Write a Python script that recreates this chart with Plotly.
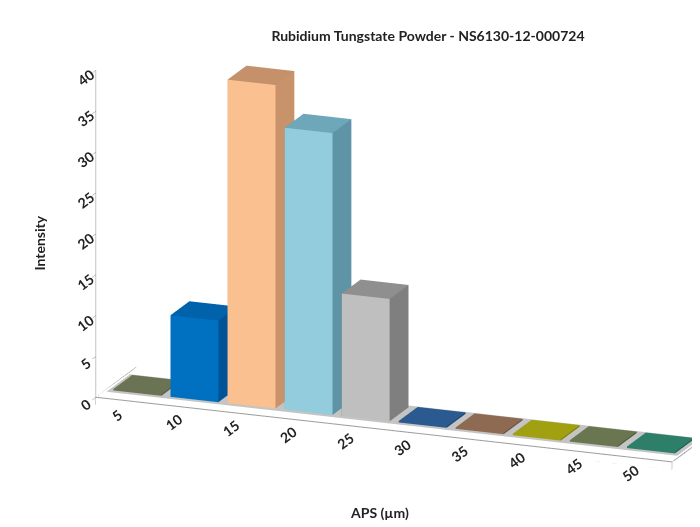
import plotly.graph_objects as go

categories = ["5", "10", "15", "20", "25", "30", "35", "40", "45", "50"]
intensity = [0.2, 10, 39.6, 34.5, 15, 0.2, 0.2, 0.2, 0.2, 0.2]
front_colors = ["#6B7355", "#0070C0", "#FAC090", "#93CDDD", "#BFBFBF",
                "#2A5A8F", "#8E6A52", "#A0A010", "#6A7650", "#2D7F6A"]
side_colors = ["#565D44", "#005396", "#C8926A", "#5F93A6", "#7F7F7F",
               "#1F4570", "#6E523F", "#7F7F0C", "#525C3E", "#225F50"]
top_colors = ["#6B7355", "#0062AA", "#C4916B", "#6FA7BA", "#8F8F8F",
              "#2A5A8F", "#8E6A52", "#A0A010", "#6A7650", "#2D7F6A"]
z_ticks = [0, 5, 10, 15, 20, 25, 30, 35, 40]

W = 0.84   # bar width (category units)
D = 0.84   # bar depth


def box(x0, x1, y0, y1, z0, z1):
    xs = [x0, x1, x1, x0, x0, x1, x1, x0]
    ys = [y0, y0, y1, y1, y0, y0, y1, y1]
    zs = [z0, z0, z0, z0, z1, z1, z1, z1]
    # bottom, top, front(y0), back(y1), left(x0), right(x1)
    i = [0, 0, 4, 4, 0, 0, 3, 3, 0, 0, 1, 1]
    j = [1, 2, 5, 6, 1, 5, 2, 6, 3, 7, 2, 6]
    k = [2, 3, 6, 7, 5, 4, 6, 7, 7, 4, 6, 5]
    return xs, ys, zs, i, j, k


flat = dict(ambient=1, diffuse=0, specular=0, roughness=1, fresnel=0)
fig = go.Figure()

# floor slab
nx = len(categories)
fx0, fx1 = -0.55, nx - 0.45
fy0, fy1 = -0.45, 1.35
fz0, fz1 = -0.9, 0
xs, ys, zs, i, j, k = box(fx0, fx1, fy0, fy1, fz0, fz1)
fig.add_trace(go.Mesh3d(x=xs, y=ys, z=zs, i=i, j=j, k=k, color="#FFFFFF",
                        flatshading=True, lighting=flat, hoverinfo="skip"))
# gray band under the bars
xs, ys, zs, i, j, k = box(fx0 + 0.05, fx1 - 0.05, 0.0 - 0.1, D + 0.1, 0.0, 0.02)
fig.add_trace(go.Mesh3d(x=xs, y=ys, z=zs, i=i, j=j, k=k, color="#C4C4C4",
                        flatshading=True, lighting=flat, hoverinfo="skip"))
# floor outlines
ex = [fx0, fx1, fx1, fx0, fx0, None, fx0, fx1, None, fx0, fx0, None, fx1, fx1]
ey = [fy0, fy0, fy1, fy1, fy0, None, fy0, fy0, None, fy0, fy1, None, fy0, fy0]
ez = [fz1, fz1, fz1, fz1, fz1, None, fz0, fz0, None, fz1, fz1, None, fz1, fz0]
fig.add_trace(go.Scatter3d(x=ex, y=ey, z=ez, mode="lines",
                           line=dict(color="#9A9A9A", width=2), hoverinfo="skip"))

for idx, v in enumerate(intensity):
    xs, ys, zs, i, j, k = box(idx - W / 2, idx + W / 2, 0, D, 0.02, v)
    fc = [front_colors[idx]] * 2 + [top_colors[idx]] * 2 + [front_colors[idx]] * 4 \
        + [side_colors[idx]] * 4
    fig.add_trace(go.Mesh3d(x=xs, y=ys, z=zs, i=i, j=j, k=k, facecolor=fc,
                            flatshading=True, lighting=flat, hoverinfo="skip"))

axis_font = dict(family="Lato", size=13, color="#222222", weight="bold")
fig.update_layout(
    width=700, height=527,
    paper_bgcolor="white",
    showlegend=False,
    margin=dict(l=0, r=0, t=0, b=0),
    title=dict(text="Rubidium Tungstate Powder - NS6130-12-000724",
               x=0.6, y=0.947, xanchor="center", yanchor="middle",
               font=dict(family="Lato", size=14, color="#222222", weight="bold")),
    scene=dict(
        domain=dict(x=[0.1, 1.0], y=[0.075, 0.995]),
        xaxis=dict(range=[fx0, fx1], tickvals=list(range(nx)), ticktext=categories,
                   showgrid=False, zeroline=False, showline=False, showbackground=False,
                   title=dict(text=""), tickfont=axis_font, ticks="outside",
                   ticklen=38, tickcolor="rgba(0,0,0,0)"),
        yaxis=dict(range=[fy0, fy1], showticklabels=False, showgrid=False,
                   zeroline=False, showline=False, showbackground=False,
                   title=dict(text=""), ticks=""),
        zaxis=dict(range=[fz0, 40], tickvals=z_ticks, showgrid=False, zeroline=False,
                   showline=True, linecolor="#888888", ticks="outside",
                   tickcolor="#888888", showbackground=False,
                   title=dict(text=""), tickfont=axis_font),
        aspectmode="manual",
        aspectratio=dict(x=2.55, y=0.46, z=1.44),
        camera=dict(eye=dict(x=0.72, y=-1.98, z=0.64),
                    center=dict(x=-0.05, y=0, z=0),
                    projection=dict(type="orthographic")),
    ),
    annotations=[
        dict(text="Intensity", x=0.03, y=0.554, xref="paper", yref="paper",
             textangle=-90, showarrow=False,
             font=dict(family="Lato", size=14, color="#222222", weight="bold")),
        dict(text="APS (µm)", x=0.53, y=0.023, xref="paper", yref="paper",
             showarrow=False,
             font=dict(family="Lato", size=14, color="#222222", weight="bold")),
    ],
)

fig.write_html("out.html")
